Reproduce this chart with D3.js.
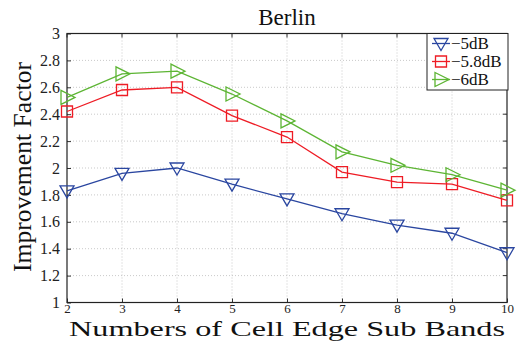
<!DOCTYPE html>
<html>
<head>
<meta charset="utf-8">
<script src="https://cdn.jsdelivr.net/npm/d3@7"></script>
<style>
  body { margin: 0; background: #fff; }
  svg text { font-family: "Liberation Serif", "Times New Roman", Times, serif; }
</style>
</head>
<body>
<div id="chart"></div>
<script>
const WIDTH = 518
const HEIGHT = 341
const FONT = "'Liberation Serif', 'Times New Roman', Times, serif"

// data
const subBands = [2, 3, 4, 5, 6, 7, 8, 9, 10]
const db5 = [1.83, 1.96, 2.00, 1.88, 1.77, 1.66, 1.575, 1.515, 1.37]
const db58 = [2.42, 2.58, 2.60, 2.39, 2.23, 1.97, 1.895, 1.88, 1.76]
const db6 = [2.525, 2.70, 2.72, 2.55, 2.35, 2.12, 2.02, 1.95, 1.835]
const yTicks = [1, 1.2, 1.4, 1.6, 1.8, 2, 2.2, 2.4, 2.6, 2.8, 3]
const seriesNames = ["\u22125dB", "\u22125.8dB", "\u22126dB"]

const margin = { top: 33.5, right: 11, bottom: 38.5, left: 67 }

const series = [
    { name: seriesNames[0], values: db5, color: "#2a46a0", marker: "down" },
    { name: seriesNames[1], values: db58, color: "#ee1c25", marker: "square" },
    { name: seriesNames[2], values: db6, color: "#5db534", marker: "right" }
]

const svg = d3.select("#chart").append("svg")
    .attr("width", WIDTH)
    .attr("height", HEIGHT)
    .attr("font-family", FONT)

const x = d3.scaleLinear()
    .domain([2, 10])
    .range([margin.left, WIDTH - margin.right])

const y = d3.scaleLinear()
    .domain([1, 3])
    .range([HEIGHT - margin.bottom, margin.top])

// dotted grid
svg.append("g")
    .selectAll("line")
    .data(subBands.slice(1, -1))
    .join("line")
    .attr("x1", d => x(d)).attr("x2", d => x(d))
    .attr("y1", y(1)).attr("y2", y(3))
    .attr("stroke", "#bbb")
    .attr("stroke-width", 0.8)
    .attr("stroke-dasharray", "1,2")

svg.append("g")
    .selectAll("line")
    .data(yTicks.slice(1, -1))
    .join("line")
    .attr("x1", x(2)).attr("x2", x(10))
    .attr("y1", d => y(d)).attr("y2", d => y(d))
    .attr("stroke", "#bbb")
    .attr("stroke-width", 0.8)
    .attr("stroke-dasharray", "1,2")

// axes (ticks pointing inward)
const xAxis = svg.append("g")
    .attr("transform", `translate(0,${y(1)})`)
    .call(d3.axisBottom(x).tickValues(subBands).tickSizeInner(-4).tickSizeOuter(0).tickPadding(1))
    .attr("font-family", FONT)
xAxis.select(".domain").remove()
xAxis.selectAll("text").attr("font-size", 13).attr("fill", "#222")
xAxis.selectAll("line").attr("stroke", "#333")

const yAxis = svg.append("g")
    .attr("transform", `translate(${x(2)},0)`)
    .call(d3.axisLeft(y).tickValues(yTicks).tickFormat(d3.format("~g")).tickSizeInner(-4).tickSizeOuter(0).tickPadding(7))
    .attr("font-family", FONT)
yAxis.select(".domain").remove()
yAxis.selectAll("text").attr("font-size", 16).attr("fill", "#222")
yAxis.selectAll("line").attr("stroke", "#333")

// top / right ticks
svg.append("g").selectAll("line")
    .data(subBands)
    .join("line")
    .attr("x1", d => x(d)).attr("x2", d => x(d))
    .attr("y1", y(3)).attr("y2", y(3) + 4)
    .attr("stroke", "#333")
svg.append("g").selectAll("line")
    .data(yTicks)
    .join("line")
    .attr("x1", x(10)).attr("x2", x(10) - 4)
    .attr("y1", d => y(d)).attr("y2", d => y(d))
    .attr("stroke", "#333")

// frame
svg.append("rect")
    .attr("x", x(2)).attr("y", y(3))
    .attr("width", x(10) - x(2))
    .attr("height", y(1) - y(3))
    .attr("fill", "none")
    .attr("stroke", "#222")
    .attr("stroke-width", 1.2)

function markerPath(type) {
    if (type === "down") return "M-7,-5L7,-5L0,7Z"
    if (type === "right") return "M-6,-7L8,0L-6,7Z"
    return "M-5.5,-5.5L5.5,-5.5L5.5,5.5L-5.5,5.5Z"
}

const line = d3.line()
    .x((d, i) => x(subBands[i]))
    .y(d => y(d))

series.forEach(s => {
    const g = svg.append("g")
    g.append("path")
        .attr("d", line(s.values))
        .attr("fill", "none")
        .attr("stroke", s.color)
        .attr("stroke-width", 1.3)
    g.selectAll("path.mk")
        .data(s.values)
        .join("path")
        .attr("class", "mk")
        .attr("d", markerPath(s.marker))
        .attr("transform", (d, i) => `translate(${x(subBands[i])},${y(d)})`)
        .attr("fill", "none")
        .attr("stroke", s.color)
        .attr("stroke-width", 1.3)
})

// legend
const legend = svg.append("g")
legend.append("rect")
    .attr("x", 427).attr("y", y(3))
    .attr("width", 81).attr("height", 56.5)
    .attr("fill", "#fff")
    .attr("stroke", "#222")
    .attr("stroke-width", 1)

const legendItem = legend.selectAll("g.item")
    .data(series)
    .join("g")
    .attr("class", "item")
    .attr("transform", (d, i) => `translate(441,${43.5 + i * 18})`)

legendItem.append("line")
    .attr("x1", -9).attr("x2", 9)
    .attr("stroke", d => d.color)
    .attr("stroke-width", 1.3)
legendItem.append("path")
    .attr("d", d => markerPath(d.marker))
    .attr("fill", "none")
    .attr("stroke", d => d.color)
    .attr("stroke-width", 1.3)
legendItem.append("text")
    .attr("x", 10)
    .attr("dy", "0.35em")
    .attr("font-size", 17)
    .attr("fill", "#111")
    .text(d => d.name)

// titles
svg.append("text")
    .attr("x", 287).attr("y", 25)
    .attr("text-anchor", "middle")
    .attr("font-size", 23)
    .attr("fill", "#111")
    .text("Berlin")

svg.append("text")
    .attr("x", 287).attr("y", 335.5)
    .attr("text-anchor", "middle")
    .attr("font-size", 22)
    .attr("fill", "#111")
    .attr("textLength", 436)
    .attr("lengthAdjust", "spacingAndGlyphs")
    .text("Numbers of Cell Edge Sub Bands")

svg.append("text")
    .attr("transform", "translate(31,167) rotate(-90)")
    .attr("text-anchor", "middle")
    .attr("font-size", 25)
    .attr("fill", "#111")
    .attr("textLength", 210)
    .attr("lengthAdjust", "spacingAndGlyphs")
    .text("Improvement Factor")
</script>
</body>
</html>
